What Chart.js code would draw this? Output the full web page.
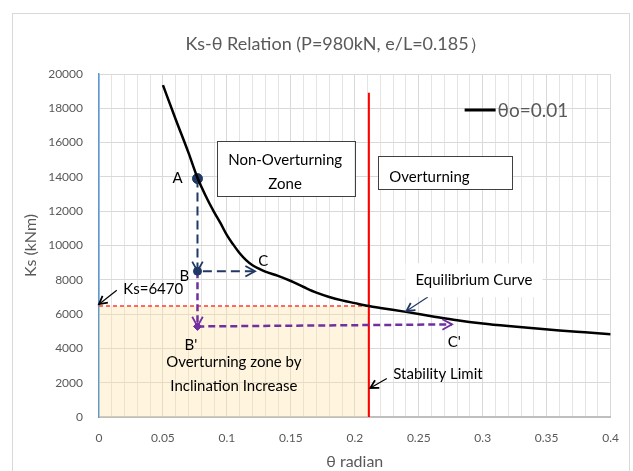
<!DOCTYPE html>
<html>
<head>
<meta charset="utf-8">
<title>Ks-θ Relation</title>
<script src="https://cdn.jsdelivr.net/npm/chart.js@4.4.1/dist/chart.umd.min.js"></script>
<style>
  body { margin: 0; background: #fff; }
  canvas { display: block; }
</style>
</head>
<body>
<canvas id="ksChart" width="633" height="471"></canvas>
<script>
// equilibrium curve (theta in radian, Ks in kNm)
const thetaVals = [0.05, 0.06, 0.07, 0.077, 0.085, 0.09, 0.095, 0.1, 0.105, 0.11, 0.115, 0.12, 0.125, 0.13, 0.14,
  0.15, 0.16, 0.17, 0.18, 0.19, 0.2, 0.211, 0.22, 0.24, 0.26, 0.28, 0.3, 0.32, 0.34, 0.36, 0.38, 0.4];
const ksVals = [19350, 17350, 15400, 13950, 12650, 11950, 11300, 10600, 10050, 9550, 9150, 8850, 8650, 8480, 8230,
  7930, 7580, 7250, 7000, 6800, 6640, 6470, 6360, 6130, 5880, 5640, 5450, 5300, 5170, 5050, 4940, 4830];

// stability limit and the critical Ks
const limitTheta = [0.211, 0.211];
const limitKs = [0, 18900];
const critTheta = [0, 0.211];
const critKs = [6470, 6470];

// the A -> B -> C path and the B -> B' -> C' path
const navyTheta = [0.077, 0.077, 0.122];
const navyKs = [13900, 8500, 8500];
const purpleTheta = [0.077, 0.077, 0.276];
const purpleKs = [8500, 5280, 5400];

// axis tick labels
const xTickLabels = ["0", "0.05", "0.1", "0.15", "0.2", "0.25", "0.3", "0.35", "0.4"];
const yTickLabels = ["0", "2000", "4000", "6000", "8000", "10000", "12000", "14000", "16000", "18000", "20000"];

const seriesName = "θo=0.01";
const chartTitle = "Ks-θ Relation (P=980kN, e/L=0.185）";

const toPoints = (xs, ys) => xs.map((v, i) => ({ x: v, y: ys[i] }));

const NAVY = "#1f3864";
const PURPLE = "#7030a0";
const GREY = "#595959";
const FONT = "Lato, 'Open Sans', sans-serif";

// text notes, placed in data units
const notes = [
  { text: "A", x: 0.0615, y: 13910 },
  { text: "B", x: 0.0667, y: 8205 },
  { text: "C", x: 0.1284, y: 9104 },
  { text: "B'", x: 0.0718, y: 4184 },
  { text: "C'", x: 0.2777, y: 4377 },
  { text: "Non-Overturning", x: 0.1455, y: 14970 },
  { text: "Zone", x: 0.1455, y: 13580 },
  { text: "Overturning", x: 0.227, y: 14006, align: "left" },
  { text: "Ks=6470", x: 0.019, y: 7435, align: "left" },
  { text: "Overturning zone by", x: 0.1054, y: 3210 },
  { text: "Inclination Increase", x: 0.1054, y: 1790 },
  { text: "Stability Limit", x: 0.2301, y: 2492, align: "left" },
  { text: "Equilibrium Curve", x: 0.2932, y: 7976, boxed: true }
];
const frames = [
  { x0: 0.0921, y0: 16090, x1: 0.1997, y1: 12880 },
  { x0: 0.2185, y0: 15215, x1: 0.3236, y1: 13290 }
];
const pointers = [
  { x0: 0.0139, y0: 7394, x1: 0.0, y1: 6577, color: "#000" },
  { x0: 0.225, y0: 2241, x1: 0.2121, y1: 1692, color: "#000" },
  { x0: 0.2571, y0: 7003, x1: 0.2404, y1: 6186, color: NAVY }
];

function arrowHead(ctx, fx, fy, tx, ty, color, size) {
  const a = Math.atan2(ty - fy, tx - fx);
  ctx.save();
  ctx.strokeStyle = color;
  ctx.lineWidth = 1.8;
  ctx.setLineDash([]);
  ctx.beginPath();
  ctx.moveTo(tx - size * Math.cos(a - 0.5), ty - size * Math.sin(a - 0.5));
  ctx.lineTo(tx, ty);
  ctx.lineTo(tx - size * Math.cos(a + 0.5), ty - size * Math.sin(a + 0.5));
  ctx.stroke();
  ctx.restore();
}

const overlay = {
  id: "overlay",
  beforeDraw(chart) {
    const ctx = chart.ctx;
    ctx.save();
    ctx.fillStyle = "#fff";
    ctx.fillRect(0, 0, chart.width, chart.height);
    ctx.strokeStyle = "#d9d9d9";
    ctx.lineWidth = 1;
    ctx.strokeRect(12.5, 13.5, 617, 480);
    // title, centred a little right of the canvas middle like the original
    ctx.fillStyle = GREY;
    ctx.font = "18px " + FONT;
    ctx.textAlign = "center";
    ctx.textBaseline = "middle";
    ctx.fillText(chartTitle, 336, 44);
    ctx.restore();
  },
  afterDatasetsDraw(chart) {
    const { ctx, scales: { x, y }, chartArea } = chart;

    // arrow heads on the dashed paths
    chart.data.datasets.forEach(ds => {
      if (!ds.arrowHeads) return;
      for (let k = 1; k < ds.data.length; k++) {
        const p = ds.data[k - 1], q = ds.data[k];
        arrowHead(ctx, x.getPixelForValue(p.x), y.getPixelForValue(p.y),
          x.getPixelForValue(q.x), y.getPixelForValue(q.y), ds.borderColor, 11);
      }
    });

    // pointer arrows
    pointers.forEach(p => {
      const fx = x.getPixelForValue(p.x0), fy = y.getPixelForValue(p.y0);
      const tx = x.getPixelForValue(p.x1), ty = y.getPixelForValue(p.y1);
      ctx.save();
      ctx.strokeStyle = p.color;
      ctx.lineWidth = 1.2;
      ctx.beginPath();
      ctx.moveTo(fx, fy);
      ctx.lineTo(tx, ty);
      ctx.stroke();
      ctx.restore();
      arrowHead(ctx, fx, fy, tx, ty, p.color, 9);
    });

    // framed notes
    frames.forEach(f => {
      const l = x.getPixelForValue(f.x0), t = y.getPixelForValue(f.y0);
      const r = x.getPixelForValue(f.x1), b = y.getPixelForValue(f.y1);
      ctx.save();
      ctx.fillStyle = "#fff";
      ctx.fillRect(l, t, r - l, b - t);
      ctx.strokeStyle = "#404040";
      ctx.lineWidth = 1;
      ctx.strokeRect(Math.round(l) + 0.5, Math.round(t) + 0.5, Math.round(r - l), Math.round(b - t));
      ctx.restore();
    });

    ctx.save();
    ctx.font = "15px " + FONT;
    ctx.textBaseline = "middle";
    notes.forEach(n => {
      const px = x.getPixelForValue(n.x), py = y.getPixelForValue(n.y);
      ctx.textAlign = n.align || "center";
      if (n.boxed) {
        const w = ctx.measureText(n.text).width;
        ctx.fillStyle = "#fff";
        ctx.fillRect(px - w / 2 - 10, py - 17, w + 20, 34);
      }
      ctx.fillStyle = "#000";
      ctx.fillText(n.text, px, py);
    });
    ctx.restore();

    // legend entry
    const ds = chart.data.datasets[0];
    const ly = chartArea.top + 36;
    const lx = chartArea.right - 146;
    ctx.save();
    ctx.strokeStyle = ds.borderColor;
    ctx.lineWidth = 3;
    ctx.beginPath();
    ctx.moveTo(lx, ly);
    ctx.lineTo(lx + 31, ly);
    ctx.stroke();
    ctx.fillStyle = GREY;
    ctx.font = "19px " + FONT;
    ctx.textAlign = "left";
    ctx.textBaseline = "middle";
    ctx.fillText(ds.label, lx + 33, ly + 1);
    ctx.restore();
  }
};

new Chart(document.getElementById("ksChart"), {
  type: "scatter",
  data: {
    datasets: [
      {
        label: seriesName,
        data: toPoints(thetaVals, ksVals),
        showLine: true,
        borderColor: "#000",
        borderWidth: 2.5,
        pointRadius: 0,
        cubicInterpolationMode: "monotone"
      },
      {
        label: "A, B",
        data: [toPoints(navyTheta, navyKs)[0], toPoints(navyTheta, navyKs)[1]],
        showLine: false,
        pointRadius: [5, 4],
        pointBackgroundColor: NAVY,
        pointBorderColor: NAVY
      },
      {
        label: "B'",
        data: [toPoints(purpleTheta, purpleKs)[1]],
        showLine: false,
        pointStyle: "rectRot",
        pointRadius: 4,
        pointBackgroundColor: PURPLE,
        pointBorderColor: PURPLE
      },
      {
        label: "A-B-C",
        data: toPoints(navyTheta, navyKs),
        showLine: true,
        borderColor: NAVY,
        borderWidth: 2,
        borderDash: [9, 5],
        pointRadius: 0,
        arrowHeads: true
      },
      {
        label: "B-B'-C'",
        data: toPoints(purpleTheta, purpleKs),
        showLine: true,
        borderColor: PURPLE,
        borderWidth: 2.5,
        borderDash: [7, 4],
        pointRadius: 0,
        arrowHeads: true
      },
      {
        label: "Stability Limit",
        data: toPoints(limitTheta, limitKs),
        showLine: true,
        borderColor: "#ff0000",
        borderWidth: 2,
        pointRadius: 0
      },
      {
        label: "Ks=6470",
        data: toPoints(critTheta, critKs),
        showLine: true,
        borderColor: "#ff3b2f",
        borderWidth: 1.5,
        borderDash: [4, 3],
        pointRadius: 0,
        fill: "origin",
        backgroundColor: "rgba(255, 226, 160, 0.35)"
      }
    ]
  },
  options: {
    responsive: false,
    animation: false,
    devicePixelRatio: 1,
    layout: { padding: { left: 13, right: 16, top: 74, bottom: 0 } },
    plugins: {
      legend: { display: false },
      tooltip: { enabled: false },
      title: { display: false }
    },
    scales: {
      x: {
        type: "linear",
        min: 0,
        max: 0.4,
        afterFit: s => { s.height = 54; },
        border: { color: "#bfbfbf", width: 2 },
        grid: {
          color: c => (c.index % 5 === 0 ? "#d9d9d9" : "#e4e4e4"),
          drawTicks: false
        },
        ticks: {
          stepSize: 0.01,
          autoSkip: false,
          maxRotation: 0,
          padding: 14,
          color: GREY,
          font: { family: FONT, size: 12 },
          callback: (v, i) => (i % 5 === 0 ? xTickLabels[i / 5] : "")
        },
        title: {
          display: true,
          text: "θ radian",
          color: GREY,
          font: { family: FONT, size: 16 },
          padding: { top: 0, bottom: 0 }
        }
      },
      y: {
        min: 0,
        max: 20000,
        afterFit: s => { s.width = 86; },
        border: { color: "#5b9bd5", width: 1.5 },
        grid: { color: "#d9d9d9", drawTicks: false },
        ticks: {
          stepSize: 2000,
          padding: 16,
          color: GREY,
          font: { family: FONT, size: 12 },
          callback: (v, i) => yTickLabels[i]
        },
        title: {
          display: true,
          text: "Ks (kNm)",
          color: GREY,
          font: { family: FONT, size: 16 },
          padding: { top: 8, bottom: 0 }
        }
      }
    }
  },
  plugins: [overlay]
});
</script>
</body>
</html>
